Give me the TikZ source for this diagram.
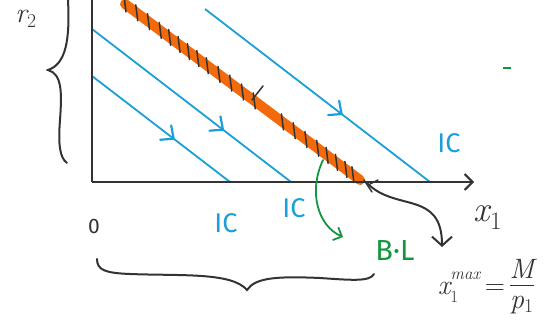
\documentclass[tikz,border=0pt]{standalone}
\usepackage{fontspec}
\setsansfont{Fira Sans}
\usetikzlibrary{arrows.meta,calc}
\definecolor{icblue}{HTML}{1A9FD8}
\definecolor{bworange}{HTML}{F26A0C}
\definecolor{pen}{HTML}{333333}
\definecolor{pengreen}{HTML}{13963E}
\begin{document}
\begin{tikzpicture}[x=1pt,y=-1pt,
  axis/.style={pen, line width=2.4pt},
  icline/.style={icblue, line width=1.8pt},
  chev/.style={icblue, line width=2.2pt, line cap=round, line join=round},
  hatch/.style={pen, line width=1.5pt, line cap=round},
  penline/.style={pen, line width=2pt, line cap=round},
  bl/.style={bworange, line width=10pt, line cap=round},
  lbl/.style={inner sep=0pt},
  bluetxt/.style={lbl, icblue, font=\sffamily\fontsize{27}{27}\selectfont},
  barb/.style={-{Straight Barb[length=8pt,width=16pt,line width=2pt]}},
]
\useasboundingbox (0,0) rectangle (556,320);
% coordinates
\coordinate (O) at (92,182);
\coordinate (ytop) at (92,-2);
\coordinate (xend) at (474,182);
\coordinate (l1s) at (92,76);  \coordinate (l1e) at (230,182);
\coordinate (l2s) at (92,29);  \coordinate (l2e) at (291,182);
\coordinate (l4s) at (205,9);  \coordinate (l4e) at (430,182);
\coordinate (ob) at (125,4);   \coordinate (oe) at (360,180);
% budget line
\draw[bl] (ob) -- (oe);
% hatch marks
\foreach \t in {0.0,0.05,0.1,0.15,0.19,0.23,0.27,0.31,0.35,0.4,0.45,0.5,0.55,0.67,0.72,0.77,0.82,0.86,0.9,0.94,0.97}{
  \draw[hatch] ($(ob)!\t!(oe)+(-1,-8)$) -- ++(2,16);
}
\draw[hatch] (252,100) -- (263,86);
\draw[hatch] (364,180) -- (372,192);
\draw[hatch] (370,184) -- (378,180);
% indifference curves
\draw[icline] (l1s) -- (l1e);
\draw[icline] (l2s) -- (l2e);
\draw[icline] (l4s) -- (l4e);
% chevrons on IC lines
\coordinate (c1) at ($(l1s)!0.58!(l1e)$);
\coordinate (c2) at ($(l2s)!0.65!(l2e)$);
\coordinate (c4) at ($(l4s)!0.6!(l4e)$);
\foreach \c in {c1,c2,c4}{
  \draw[chev, shift={(\c)}, rotate=-37.5] (-8,-9) -- (2,0) -- (-8,9);
}
% axes
\draw[axis] (ytop) -- (O);
\draw[axis, barb] (O) -- (xend);
% braces
\draw[penline] (68,0) .. controls (70,40) and (66,64) .. (48,70)
  .. controls (62,74) and (62,92) .. (60,120)
  .. controls (58,145) and (60,158) .. (67,163);
\draw[penline] (97,259) .. controls (97,270) and (105,273) .. (130,274)
  .. controls (180,276) and (232,272) .. (247,290)
  .. controls (255,278) and (275,276) .. (320,278)
  .. controls (350,280) and (370,282) .. (374,274);
% labels
\node[lbl, pen, font=\rmfamily\itshape\fontsize{28}{28}\selectfont] (r2) at (26,19) {r\textsubscript{\upshape 2}};
\node[lbl, pen, font=\sffamily\fontsize{21}{21}\selectfont] (zero) at (94,226) {0};
\node[lbl, pen, font=\rmfamily\itshape\fontsize{36}{36}\selectfont] (x1) at (488,218) {x\textsubscript{\upshape 1}};
\node[bluetxt] (ic1) at (226,223) {IC};
\node[bluetxt] (ic2) at (294,208) {IC};
\node[bluetxt] (ic3) at (449,143) {IC};
\node[lbl, pengreen, font=\sffamily\fontsize{29}{29}\selectfont] (BL) at (395,251) {B·L};
\node[lbl, pen, font=\rmfamily\fontsize{28}{28}\selectfont] (xmax) at (486,288)
  {\itshape x\makebox[0pt][l]{\raisebox{-8pt}{\upshape\fontsize{17}{17}\selectfont 1}}\raisebox{15pt}{\fontsize{17}{17}\selectfont max}\upshape\,=\,\begin{tabular}{@{}c@{}}\itshape M\\[-2pt]\hline\rule{0pt}{23pt}\itshape p\textsubscript{\upshape 1}\end{tabular}};
% arrows
\coordinate (gs) at (323,160);
\draw[pengreen, line width=1.8pt, line cap=round, -{Straight Barb[length=7pt,width=14pt,line width=1.8pt]}]
  (gs) .. controls (308,192) and (318,226) .. (343,237);
\coordinate (bs) at (367,183);
\draw[penline, -{Straight Barb[length=9pt,width=20pt,line width=2pt]}]
  (bs) .. controls (395,212) and (442,190) .. (442,247);
% small green dash
\draw[pengreen, line width=1.5pt] (503,68) -- (511,68);
\end{tikzpicture}
\end{document}
